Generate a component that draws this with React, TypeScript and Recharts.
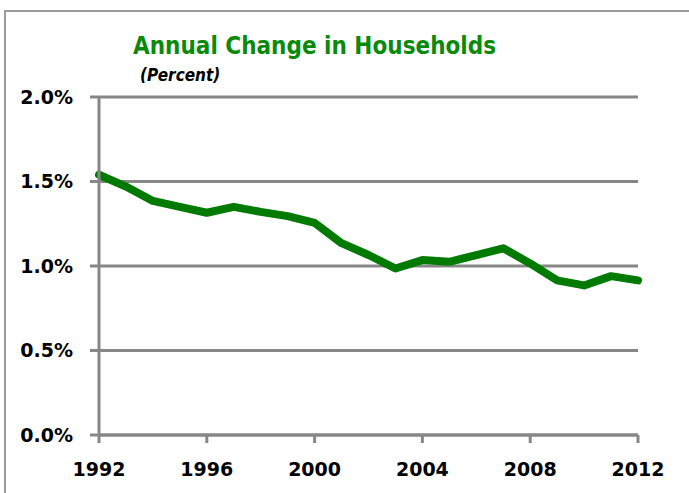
import { LineChart, Line, XAxis, YAxis, CartesianGrid } from "recharts";

const years = [
  1992, 1993, 1994, 1995, 1996, 1997, 1998, 1999, 2000, 2001, 2002,
  2003, 2004, 2005, 2006, 2007, 2008, 2009, 2010, 2011, 2012,
];
const changes = [
  1.54, 1.47, 1.385, 1.35, 1.315, 1.35, 1.32, 1.295, 1.255, 1.135, 1.065,
  0.985, 1.035, 1.025, 1.065, 1.105, 1.015, 0.915, 0.885, 0.94, 0.915,
];
const xTicks = [1992, 1996, 2000, 2004, 2008, 2012];
const yTicks = [0, 0.5, 1, 1.5, 2];

const data = years.map((year, i) => ({ year, change: changes[i] }));

const GRAY = "#878787";
const GREEN = "#007a00";
const tickStyle = {
  fill: "#000",
  fontSize: 19,
  fontWeight: "bold",
  fontFamily: "'DejaVu Sans', sans-serif",
};

const App = () => (
  <div
    style={{
      position: "absolute",
      left: 0,
      top: 0,
      width: 689,
      height: 493,
      overflow: "hidden",
      background: "#fff",
    }}
  >
    <div
      style={{
        position: "absolute",
        left: 4,
        top: 10,
        width: 800,
        height: 600,
        borderLeft: "2px solid #9a9a9a",
        borderTop: "2px solid #9a9a9a",
      }}
    />
    <div
      style={{
        position: "absolute",
        left: 133,
        top: 34,
        fontFamily: "'DejaVu Sans Condensed', 'DejaVu Sans', sans-serif",
        fontWeight: "bold",
        fontSize: 24,
        lineHeight: "24px",
        color: "#0a8a0a",
        whiteSpace: "nowrap",
      }}
    >
      Annual Change in Households
    </div>
    <div
      style={{
        position: "absolute",
        left: 140,
        top: 67,
        fontFamily: "'DejaVu Sans Condensed', 'DejaVu Sans', sans-serif",
        fontWeight: "bold",
        fontStyle: "italic",
        fontSize: 17,
        lineHeight: "17px",
        color: "#000",
        whiteSpace: "nowrap",
      }}
    >
      (Percent)
    </div>
    <div style={{ position: "absolute", left: 0, top: 0 }}>
      <LineChart
        width={689}
        height={493}
        data={data}
        margin={{ top: 97, right: 51, bottom: 0, left: 0 }}
      >
        <CartesianGrid
          vertical={false}
          stroke={GRAY}
          strokeWidth={3}
        />
        <XAxis
          dataKey="year"
          type="number"
          domain={[1992, 2012]}
          ticks={xTicks}
          height={58}
          tickSize={8}
          tickMargin={20}
          axisLine={{ stroke: GRAY, strokeWidth: 3 }}
          tickLine={{ stroke: GRAY, strokeWidth: 3 }}
          tick={tickStyle}
          interval={0}
        />
        <YAxis
          domain={[0, 2]}
          ticks={yTicks}
          width={99}
          tickSize={9}
          tickMargin={17}
          tickFormatter={(v: number) => `${v.toFixed(1)}%`}
          axisLine={{ stroke: GRAY, strokeWidth: 3 }}
          tickLine={{ stroke: GRAY, strokeWidth: 3 }}
          tick={tickStyle}
          interval={0}
        />
        <Line
          type="linear"
          dataKey="change"
          stroke={GREEN}
          strokeWidth={8}
          strokeLinejoin="round"
          strokeLinecap="round"
          dot={false}
          activeDot={false}
          isAnimationActive={false}
        />
      </LineChart>
    </div>
  </div>
);

export default App;
